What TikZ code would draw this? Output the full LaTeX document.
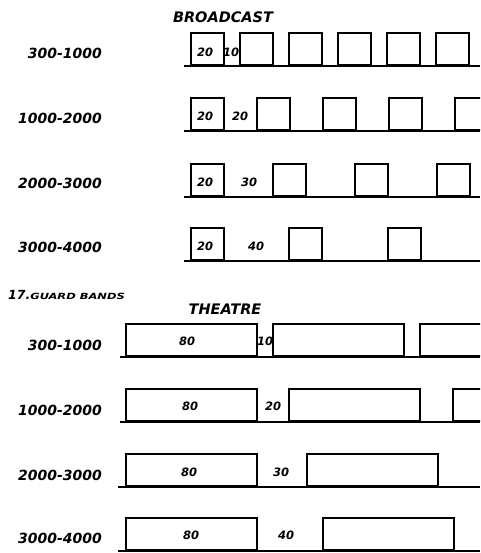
\documentclass[tikz,border=0pt]{standalone}
\usepackage{fontspec}
\setmainfont{DejaVu Sans}
\begin{document}
\begin{tikzpicture}[x=1pt,y=-1pt,
  base/.style={line width=1.7pt},
  band/.style={draw,line width=2pt,inner sep=0pt,anchor=south west,minimum height=32pt},
  bcast/.style={band,minimum width=33pt},
  thtr/.style={band,minimum width=131pt},
  rowlbl/.style={anchor=east,inner sep=0pt,font=\fontsize{14}{14}\selectfont\bfseries\itshape},
  val/.style={inner sep=0pt,font=\fontsize{11.5}{11.5}\selectfont\bfseries\itshape},
  title/.style={inner sep=0pt,font=\fontsize{14.5}{14.5}\selectfont\bfseries\itshape}]
\useasboundingbox (0,0) rectangle (480,553);
\clip (0,0) rectangle (480,553);
% Broadcast
\node[title] (tb) at (223,17) {BROADCAST};
% row 1
\node[rowlbl] (l1) at (102,53) {300-1000};
\coordinate (s1) at (184,66); \coordinate (e1) at (480,66);
\draw[base] (s1) -- (e1);
\foreach \x [count=\i] in {190,239,288,337,386,435}
  \node[bcast] (b1\i) at (\x,66) {};
\node[val] (v1a) at (205,52) {20};
\node[val] (v1b) at (231,52) {10};
% row 2
\node[rowlbl] (l2) at (102,118) {1000-2000};
\coordinate (s2) at (184,131); \coordinate (e2) at (480,131);
\draw[base] (s2) -- (e2);
\foreach \x [count=\i] in {190,256,322,388,454}
  \node[bcast] (b2\i) at (\x,131) {};
\node[val] (v2a) at (205,116) {20};
\node[val] (v2b) at (240,116) {20};
% row 3
\node[rowlbl] (l3) at (102,183) {2000-3000};
\coordinate (s3) at (184,197); \coordinate (e3) at (480,197);
\draw[base] (s3) -- (e3);
\foreach \x [count=\i] in {190,272,354,436}
  \node[bcast] (b3\i) at (\x,197) {};
\node[val] (v3a) at (205,182) {20};
\node[val] (v3b) at (249,182) {30};
% row 4
\node[rowlbl] (l4) at (102,247) {3000-4000};
\coordinate (s4) at (184,261); \coordinate (e4) at (480,261);
\draw[base] (s4) -- (e4);
\foreach \x [count=\i] in {190,288,387}
  \node[bcast] (b4\i) at (\x,261) {};
\node[val] (v4a) at (205,246) {20};
\node[val] (v4b) at (256,246) {40};
% Guard bands heading
\node[anchor=west,inner sep=0pt] (gb) at (8,295)
  {\bfseries\itshape\fontsize{12.5}{12.5}\selectfont 17.\fontsize{8.5}{8.5}\selectfont\scalebox{1.35}[1]{GUARD BANDS}};
% Theatre
\node[title] (tt) at (225,309) {THEATRE};
% row 1
\node[rowlbl] (m1) at (102,345) {300-1000};
\coordinate (t1s) at (120,357); \coordinate (t1e) at (480,357);
\draw[base] (t1s) -- (t1e);
\foreach \x [count=\i] in {125,272,419}
  \node[thtr] (c1\i) at (\x,357) {};
\node[val] (w1a) at (187,341) {80};
\node[val] (w1b) at (265,341) {10};
% row 2
\node[rowlbl] (m2) at (102,410) {1000-2000};
\coordinate (t2s) at (120,422); \coordinate (t2e) at (480,422);
\draw[base] (t2s) -- (t2e);
\foreach \x [count=\i] in {125,288,452}
  \node[thtr] (c2\i) at (\x,422) {};
\node[val] (w2a) at (190,406) {80};
\node[val] (w2b) at (273,406) {20};
% row 3
\node[rowlbl] (m3) at (102,475) {2000-3000};
\coordinate (t3s) at (118,487); \coordinate (t3e) at (480,487);
\draw[base] (t3s) -- (t3e);
\foreach \x [count=\i] in {125,306}
  \node[thtr] (c3\i) at (\x,487) {};
\node[val] (w3a) at (189,472) {80};
\node[val] (w3b) at (281,472) {30};
% row 4
\node[rowlbl] (m4) at (102,538) {3000-4000};
\coordinate (t4s) at (118,551); \coordinate (t4e) at (480,551);
\draw[base] (t4s) -- (t4e);
\foreach \x [count=\i] in {125,322}
  \node[thtr] (c4\i) at (\x,551) {};
\node[val] (w4a) at (191,535) {80};
\node[val] (w4b) at (286,535) {40};
\end{tikzpicture}
\end{document}
